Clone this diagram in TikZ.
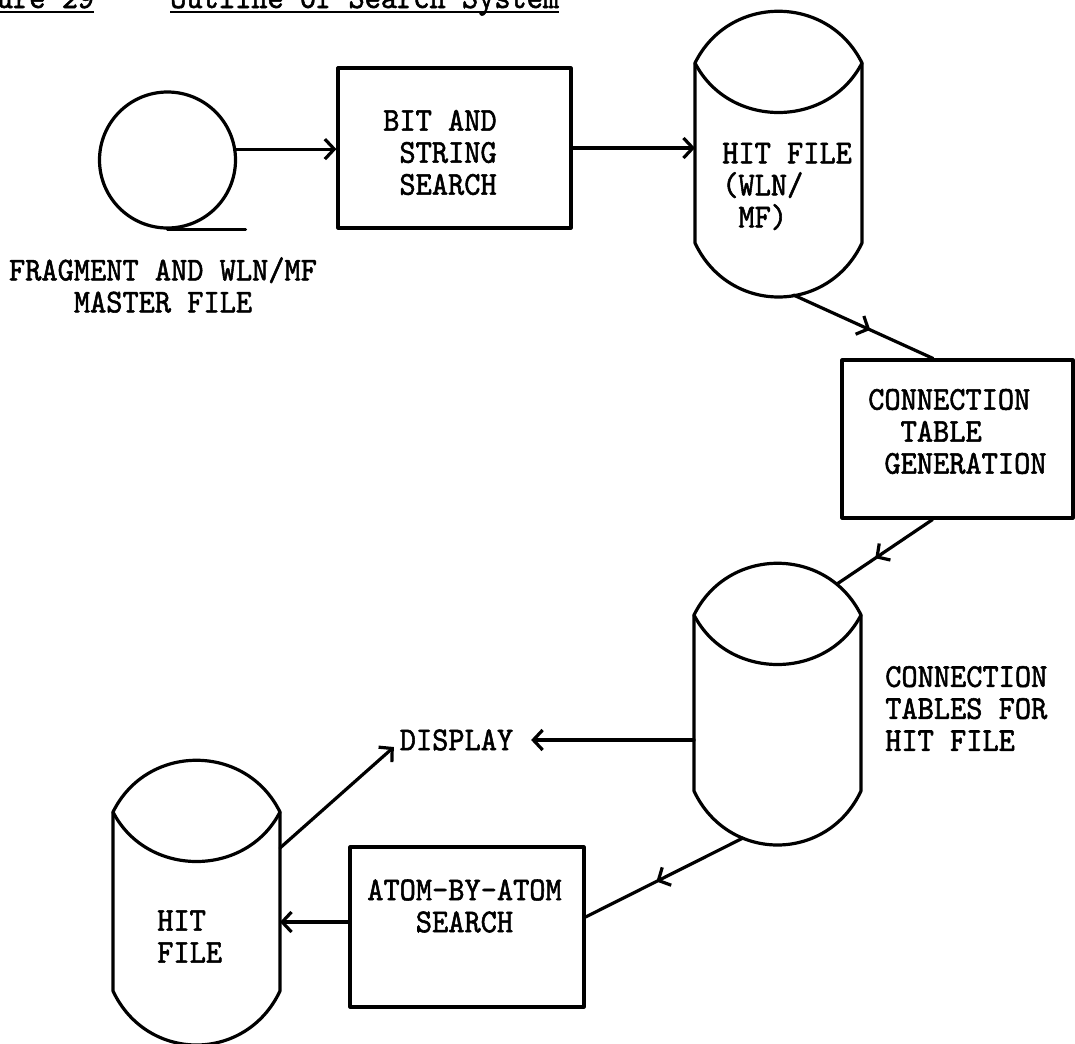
\documentclass[tikz,border=0pt]{standalone}
\usepackage{fontspec}
\usetikzlibrary{arrows.meta,calc,decorations.markings}
\newfontfamily\typer{lmmono10-regular.otf}[FakeStretch=0.926,FakeBold=1.6]
\newcommand\pxu{0.75pt}
\tikzset{
  ln/.style={line width=2.4pt, line cap=round, line join=round},
  barb/.style={-{Straight Barb[length=7pt,width=15pt]}},
  midbarb/.style={postaction={decorate},
    decoration={markings, mark=at position #1 with {\arrow{Straight Barb[length=7pt,width=15pt]}}}},
  box/.style={draw, ln, rectangle, inner sep=0pt},
  drum/.style={rectangle, inner sep=0pt, outer sep=0pt, minimum width=167*\pxu},
  txt/.style={font=\typer\fontsize{25pt}{24pt}\selectfont, inner sep=0pt, align=left},
}
% disk-file symbol: lens-shaped top, straight sides, rounded bottom
\newcommand\drawdrum[1]{%
  \path ($(#1.north west)+(0,52)$) coordinate (#1-tl)
        ($(#1.north east)+(0,52)$) coordinate (#1-tr)
        ($(#1.south west)+(0,-54)$) coordinate (#1-bl)
        ($(#1.south east)+(0,-54)$) coordinate (#1-br);
  \draw[ln] (#1-tl) .. controls ($(#1-tl)+(34,-69)$) and ($(#1-tr)+(-34,-69)$) .. (#1-tr)
        -- (#1-br) .. controls ($(#1-br)+(-34,72)$) and ($(#1-bl)+(34,72)$) .. (#1-bl) -- cycle;
  \draw[ln] (#1-tl) .. controls ($(#1-tl)+(34,66)$) and ($(#1-tr)+(-34,66)$) .. (#1-tr);
}
\begin{document}
\begin{tikzpicture}[x=0.75pt,y=-0.75pt]
\useasboundingbox (0,0) rectangle (1075,1043);
\fill[white] (0,0) rectangle (1075,1043);
\begin{scope}
\clip (0,0) rectangle (1075,1043);

% heading
\node[txt, anchor=base west] (figno) at (-52,8) {Figure 29};
\node[txt, anchor=base west] (figttl) at (170,8) {Outline of Search System};
\draw[line width=1.6pt] ($(figno.base west)+(0,4)$) -- ($(figno.base east)+(0,4)$);
\draw[line width=1.6pt] ($(figttl.base west)+(0,4)$) -- ($(figttl.base east)+(0,4)$);

% processing boxes
\node[box, minimum width=233*\pxu, minimum height=160*\pxu] (bit) at (454.5,148) {};
\node[box, minimum width=231*\pxu, minimum height=158*\pxu] (ctg) at (957.5,439) {};
\node[box, minimum width=234*\pxu, minimum height=160*\pxu] (atom) at (467,927) {};

% disk files
\node[drum, minimum height=286*\pxu] (hitA) at (778.5,154) {};
\node[drum, minimum height=282*\pxu] (ctab) at (777.5,704) {};
\node[drum, minimum height=285*\pxu] (hitB) at (196.5,902.5) {};
\drawdrum{hitA}
\drawdrum{ctab}
\drawdrum{hitB}

% magnetic tape
\node[draw, ln, circle, minimum size=136*\pxu, inner sep=0pt] (tape) at (167.5,160) {};
\draw[ln] (tape.south) -- ++(78,0);

% labels
\node[txt, align=center] (tapelbl) at (163,285) {FRAGMENT AND WLN/MF\\MASTER FILE};
\node[txt, anchor=west] (bittxt) at (383,152.5) {BIT AND\\\phantom{B}STRING\\\phantom{B}SEARCH};
\node[txt, anchor=west] (hitAtxt) at (722,186.5) {HIT FILE\\(WLN/\\\phantom{C}MF)};
\node[txt, anchor=west] (ctgtxt) at (868,431.5) {CONNECTION\\\phantom{CC}TABLE\\\phantom{C}GENERATION};
\node[txt, anchor=west] (ctabtxt) at (885,708.5) {CONNECTION\\TABLES FOR\\HIT FILE};
\node[txt, inner sep=2pt] (display) at (456.5,740) {DISPLAY};
\node[txt, anchor=west] (atomtxt) at (367,906) {ATOM-BY-ATOM\\\phantom{CCC}SEARCH};
\node[txt, anchor=west] (hitBtxt) at (157,936.5) {HIT\\FILE};

% flow
\draw[ln, barb] (tape.9) -- (tape.9 -| bit.west);
\draw[ln, barb] (bit.east) -- (bit.east -| hitA.west);
\draw[ln, midbarb=0.55] ($(hitA.south)+(15,-2)$) -- ($(ctg.north)+(-24.5,0)$);
\draw[ln, midbarb=0.6] ($(ctg.south)+(-25,0)$) -- ($(ctab.north)+(59.5,21)$);
\draw[ln, midbarb=0.55] ($(ctab.south)+(-34.5,-7)$) -- ($(atom.east)+(0,-10)$);
\path ($(atom.west)+(0,-5)$) coordinate (atomout);
\draw[ln, barb] (atomout) -- (atomout -| hitB.east);
\draw[ln, barb] ($(hitB.east)+(0,-54.5)$) -- ($(display.west)+(-3,7)$);
\draw[ln, barb] ($(ctab.west)+(0,36)$) -- ($(display.east)+(15,0)$);
\end{scope}
\end{tikzpicture}
\end{document}
